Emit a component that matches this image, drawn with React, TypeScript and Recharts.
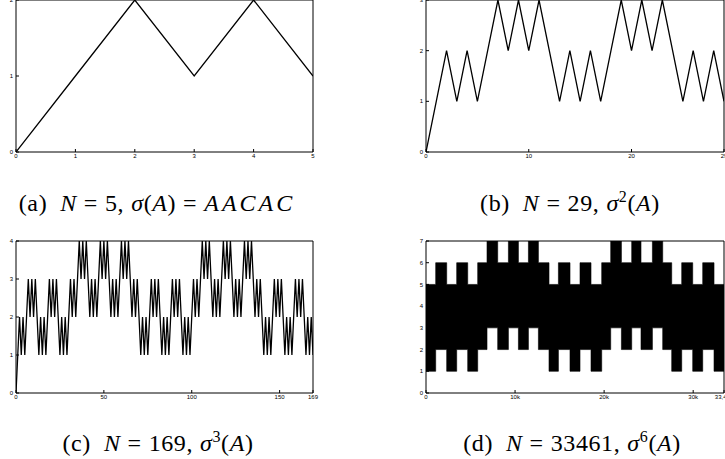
import React from "react";
import { LineChart, Line, AreaChart, Area, XAxis, YAxis } from "recharts";

// (a) N = 5, sigma(A) = AACAC
const walkA = [0, 1, 2, 1, 2, 1];

// (b) N = 29, sigma^2(A)
const walkB = [
  0, 1, 2, 1, 2, 1, 2, 3, 2, 3, 2, 3, 2, 1, 2, 1, 2, 1, 2, 3, 2, 3, 2, 3, 2, 1,
  2, 1, 2, 1,
];

// (c) N = 169, sigma^3(A)
const walkC = [
  0, 1, 2, 1, 2, 1, 2, 3, 2, 3, 2, 3, 2, 1, 2, 1, 2, 1, 2, 3, 2, 3, 2, 3, 2, 1,
  2, 1, 2, 1,
  2, 3, 2, 3, 2, 3, 4, 3, 4, 3, 4, 3, 2, 3, 2, 3, 2, 3, 4, 3, 4, 3, 4, 3, 2, 3,
  2, 3, 2,
  3, 4, 3, 4, 3, 4, 3, 2, 3, 2, 3, 2, 1, 2, 1, 2, 1, 2, 3, 2, 3, 2, 3, 2, 1, 2,
  1, 2, 1, 2, 3, 2, 3, 2, 3, 2, 1, 2, 1, 2, 1,
  2, 3, 2, 3, 2, 3, 4, 3, 4, 3, 4, 3, 2, 3, 2, 3, 2, 3, 4, 3, 4, 3, 4, 3, 2, 3,
  2, 3, 2,
  3, 4, 3, 4, 3, 4, 3, 2, 3, 2, 3, 2, 1, 2, 1, 2, 1, 2, 3, 2, 3, 2, 3, 2, 1, 2,
  1, 2, 1, 2, 3, 2, 3, 2, 3, 2, 1, 2, 1, 2, 1,
];

// (d) N = 33461, sigma^6(A): too dense to follow step by step,
// so this is the band the walk fills, segment by segment
const bandStart = [
  0, 1089, 2324, 3447, 4683, 5805, 6850, 8051, 9253, 10376, 11499, 12621, 13812,
  14867, 16170, 17293, 18528, 19729, 20740, 21942, 23098, 24142, 25422, 26579,
  27590, 28713, 29948, 31071, 32340, 33461,
];
const bandLow = [
  1, 2, 1, 2, 1, 2, 3, 2, 3, 2, 3, 2, 1, 2, 1, 2, 1, 2, 3, 2, 3, 2, 3, 2, 1, 2,
  1, 2, 1,
];
const bandHigh = [
  5, 6, 5, 6, 5, 6, 7, 6, 7, 6, 7, 6, 5, 6, 5, 6, 5, 6, 7, 6, 7, 6, 7, 6, 5, 6,
  5, 6, 5,
];

const ticksA = [0, 1, 2, 3, 4, 5];
const ticksB = [0, 10, 20, 29];
const ticksC = [0, 50, 100, 150, 169];
const ticksD = [0, 10000, 20000, 30000, 33461];
const labelsD = ["0", "10k", "20k", "30k", "33,461"];

const dataA = walkA.map((y, x) => ({ x, y }));
const dataB = walkB.map((y, x) => ({ x, y }));
const dataC = walkC.map((y, x) => ({ x, y }));
const dataD = bandStart.map((x, i) => {
  const j = Math.min(i, bandLow.length - 1);
  return { x, band: [bandLow[j], bandHigh[j]] };
});

const range = (n: number) => Array.from({ length: n + 1 }, (_, i) => i);

const tickFont = {
  fontSize: 6,
  fontFamily: "'Liberation Sans', Arial, sans-serif",
  fill: "#000",
};

// box with inward ticks on all four sides, labels only bottom/left
function frame(
  xMax: number,
  xTicks: number[],
  yMax: number,
  fmt?: (v: number) => string
) {
  const yTicks = range(yMax);
  return [
    <XAxis
      key="xb"
      xAxisId="b"
      type="number"
      dataKey="x"
      domain={[0, xMax]}
      ticks={xTicks}
      interval={0}
      allowDataOverflow
      height={1}
      tickSize={-3}
      tickMargin={5}
      tick={tickFont}
      tickFormatter={fmt}
      stroke="#000"
    />,
    <XAxis
      key="xt"
      xAxisId="t"
      orientation="top"
      type="number"
      domain={[0, xMax]}
      ticks={xTicks}
      interval={0}
      allowDataOverflow
      height={1}
      tickSize={-3}
      tick={false}
      stroke="#000"
    />,
    <YAxis
      key="yl"
      yAxisId="l"
      type="number"
      domain={[0, yMax]}
      ticks={yTicks}
      interval={0}
      allowDataOverflow
      width={1}
      tickSize={-3}
      tickMargin={6}
      tick={tickFont}
      stroke="#000"
    />,
    <YAxis
      key="yr"
      yAxisId="r"
      orientation="right"
      type="number"
      domain={[0, yMax]}
      ticks={yTicks}
      interval={0}
      allowDataOverflow
      width={1}
      tickSize={-3}
      tick={false}
      stroke="#000"
    />,
  ];
}

function WalkPanel(props: {
  left: number;
  top: number;
  width: number;
  height: number;
  margin: { top: number; right: number; bottom: number; left: number };
  data: { x: number; y: number }[];
  xMax: number;
  xTicks: number[];
  yMax: number;
}) {
  const { left, top, width, height, margin, data, xMax, xTicks, yMax } = props;
  return (
    <div style={{ position: "absolute", left, top }}>
      <LineChart width={width} height={height} data={data} margin={margin}>
        {frame(xMax, xTicks, yMax)}
        <Line
          xAxisId="b"
          yAxisId="l"
          type="linear"
          dataKey="y"
          stroke="#000"
          strokeWidth={1.3}
          dot={false}
          isAnimationActive={false}
        />
      </LineChart>
    </div>
  );
}

const serif = "'Liberation Serif', 'Times New Roman', serif";

function Caption(props: {
  cx: number;
  top: number;
  tag: string;
  n: string;
  children: React.ReactNode;
}) {
  return (
    <div
      style={{
        position: "absolute",
        left: props.cx - 200,
        top: props.top,
        width: 400,
        textAlign: "center",
        fontFamily: serif,
        fontSize: 24,
        lineHeight: "24px",
        whiteSpace: "nowrap",
        color: "#000",
        letterSpacing: 0.6,
      }}
    >
      ({props.tag})<span style={{ marginLeft: 13 }} />
      <i>N</i>
      <span style={{ margin: "0 7px" }}>=</span>
      {props.n},<span style={{ marginLeft: 7 }} />
      {props.children}
    </div>
  );
}

const sup = (s: string) => (
  <span
    style={{ fontSize: 16, position: "relative", top: -9, lineHeight: 0 }}
  >
    {s}
  </span>
);

export default function App() {
  // each axis takes 1px, so margins are 1px short of the plot edges
  const topRow = { top: 0, right: 6, bottom: 12, left: 15 };
  const botRow = { top: 12, right: 6, bottom: 12, left: 15 };
  return (
    <div
      style={{
        position: "absolute",
        left: 0,
        top: 0,
        width: 725,
        height: 459,
        overflow: "hidden",
        background: "#fff",
      }}
    >
      <WalkPanel
        left={0}
        top={-1}
        width={320}
        height={166}
        margin={topRow}
        data={dataA}
        xMax={5}
        xTicks={ticksA}
        yMax={2}
      />
      <WalkPanel
        left={410}
        top={-1}
        width={315}
        height={166}
        margin={{ ...topRow, right: 0 }}
        data={dataB}
        xMax={29}
        xTicks={ticksB}
        yMax={3}
      />
      <WalkPanel
        left={0}
        top={228}
        width={320}
        height={178}
        margin={botRow}
        data={dataC}
        xMax={169}
        xTicks={ticksC}
        yMax={4}
      />
      <div style={{ position: "absolute", left: 410, top: 228 }}>
        <AreaChart
          width={315}
          height={178}
          data={dataD}
          margin={{ ...botRow, right: 0 }}
        >
          {frame(
            33461,
            ticksD,
            7,
            (v: number) => labelsD[ticksD.indexOf(v)] ?? String(v)
          )}
          <Area
            xAxisId="b"
            yAxisId="l"
            type="stepAfter"
            dataKey="band"
            stroke="#000"
            strokeWidth={0.6}
            fill="#000"
            fillOpacity={1}
            dot={false}
            activeDot={false}
            isAnimationActive={false}
          />
        </AreaChart>
      </div>

      <Caption cx={157} top={191} tag="a" n="5">
        <i>σ</i>(<i>A</i>)<span style={{ margin: "0 7px" }}>=</span>
        <i style={{ letterSpacing: 3 }}>AACAC</i>
      </Caption>
      <Caption cx={570} top={191} tag="b" n="29">
        <i>σ</i>
        {sup("2")}(<i>A</i>)
      </Caption>
      <Caption cx={158} top={431} tag="c" n="169">
        <i>σ</i>
        {sup("3")}(<i>A</i>)
      </Caption>
      <Caption cx={572} top={431} tag="d" n="33461">
        <i>σ</i>
        {sup("6")}(<i>A</i>)
      </Caption>
    </div>
  );
}
